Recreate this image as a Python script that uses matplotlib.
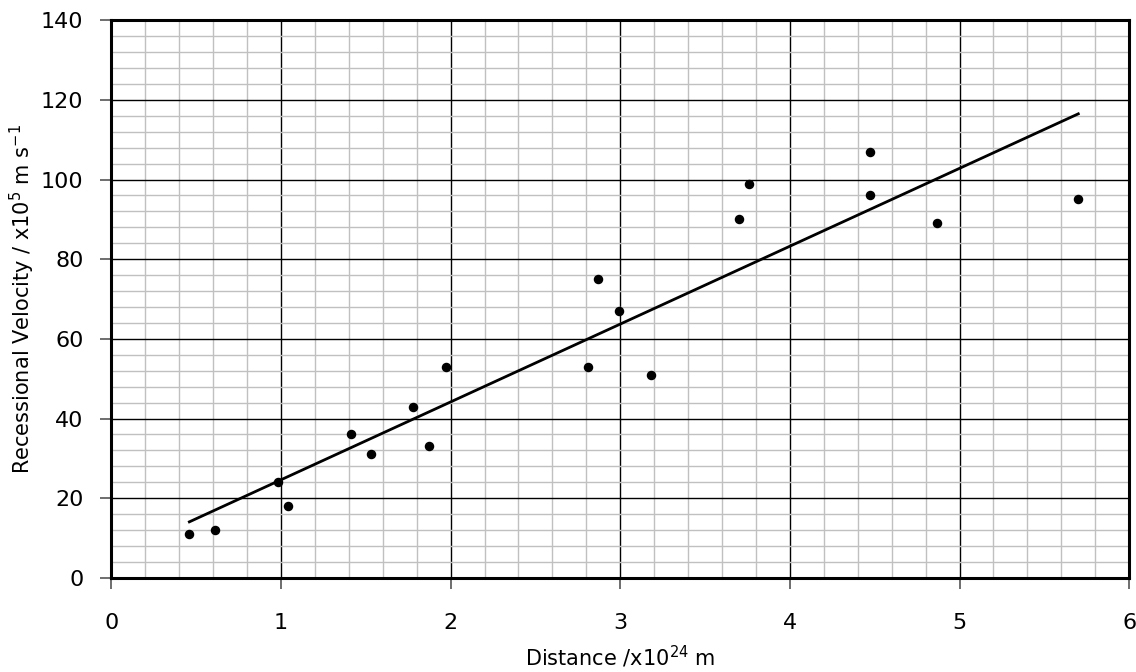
import numpy as np
import matplotlib
matplotlib.use("Agg")
import matplotlib.pyplot as plt
from matplotlib.ticker import MultipleLocator

# distance (x10^24 m) and recessional velocity (x10^5 m/s)
distance = [0.46, 0.61, 0.98, 1.04, 1.41, 1.53, 1.78, 1.87, 1.97, 2.81,
            2.87, 2.99, 3.18, 3.70, 3.76, 4.47, 4.47, 4.87, 5.70]
velocity = [11, 12, 24, 18, 36, 31, 43, 33, 53, 53,
            75, 67, 51, 90, 99, 107, 96, 89, 95]

plt.rcParams['font.family'] = ['DejaVu Sans']
plt.rcParams['mathtext.default'] = 'regular'

fig = plt.figure(figsize=(11.36, 6.72), dpi=100)
ax = fig.add_axes([0.098, 0.140, 0.896, 0.830])

ax.set_xlim(0, 6)
ax.set_ylim(0, 140)
ax.xaxis.set_major_locator(MultipleLocator(1))
ax.xaxis.set_minor_locator(MultipleLocator(0.2))
ax.yaxis.set_major_locator(MultipleLocator(20))
ax.yaxis.set_minor_locator(MultipleLocator(4))

ax.grid(which='minor', color='#c0c0c0', linewidth=1.0)
ax.grid(which='major', color='black', linewidth=1.0)
ax.set_axisbelow(True)

# trendline from least squares fit
m, c = np.polyfit(distance, velocity, 1)
xs = np.array([min(distance), max(distance)])
ax.plot(xs, m * xs + c, color='black', linewidth=2, zorder=3)

ax.scatter(distance, velocity, s=34, color='black', zorder=4)

for s in ax.spines.values():
    s.set_linewidth(2.2)
ax.tick_params(which='major', direction='out', length=8, width=1.2,
               labelsize=16, colors='#555555', labelcolor='black')
ax.tick_params(axis='x', pad=17)
ax.tick_params(axis='y', pad=12)
ax.tick_params(which='minor', length=0)

ax.set_xlabel('Distance /x10$^{24}$ m', fontsize=15, labelpad=8)
ax.set_ylabel('Recessional Velocity / x10$^{5}$ m s$^{-1}$', fontsize=15, labelpad=3)

fig.savefig('out.png', dpi=100)
